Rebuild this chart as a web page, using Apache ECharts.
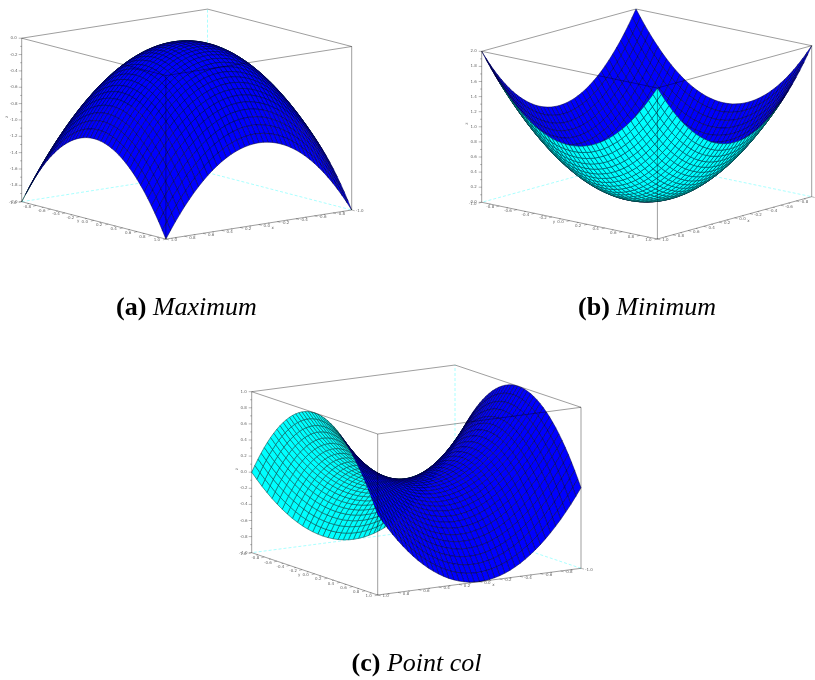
<!DOCTYPE html>
<html>
<head>
<meta charset="utf-8">
<style>
  html, body { margin: 0; padding: 0; background: #fff; }
  #chart { width: 815px; height: 680px; }
</style>
<script src="https://cdn.jsdelivr.net/npm/echarts@6/dist/echarts.min.js"></script>
</head>
<body>
<div id="chart"></div>
<script>
// mesh lines, same positions on both horizontal axes
const xGrid = [-1,-0.95,-0.9,-0.85,-0.8,-0.75,-0.7,-0.65,-0.6,-0.55,-0.5,-0.45,-0.4,-0.35,-0.3,-0.25,-0.2,-0.15,-0.1,-0.05,0,0.05,0.1,0.15,0.2,0.25,0.3,0.35,0.4,0.45,0.5,0.55,0.6,0.65,0.7,0.75,0.8,0.85,0.9,0.95,1];
const yGrid = [-1,-0.95,-0.9,-0.85,-0.8,-0.75,-0.7,-0.65,-0.6,-0.55,-0.5,-0.45,-0.4,-0.35,-0.3,-0.25,-0.2,-0.15,-0.1,-0.05,0,0.05,0.1,0.15,0.2,0.25,0.3,0.35,0.4,0.45,0.5,0.55,0.6,0.65,0.7,0.75,0.8,0.85,0.9,0.95,1];

// height contributed by each axis, read along the box edges of each panel
const maxAlongX = [-1,-0.903,-0.81,-0.723,-0.64,-0.563,-0.49,-0.423,-0.36,-0.303,-0.25,-0.203,-0.16,-0.123,-0.09,-0.063,-0.04,-0.023,-0.01,-0.003,0,-0.003,-0.01,-0.023,-0.04,-0.063,-0.09,-0.123,-0.16,-0.203,-0.25,-0.303,-0.36,-0.423,-0.49,-0.563,-0.64,-0.723,-0.81,-0.903,-1];
const maxAlongY = [-1,-0.903,-0.81,-0.723,-0.64,-0.563,-0.49,-0.423,-0.36,-0.303,-0.25,-0.203,-0.16,-0.123,-0.09,-0.063,-0.04,-0.023,-0.01,-0.003,0,-0.003,-0.01,-0.023,-0.04,-0.063,-0.09,-0.123,-0.16,-0.203,-0.25,-0.303,-0.36,-0.423,-0.49,-0.563,-0.64,-0.723,-0.81,-0.903,-1];
const minAlongX = [1,0.903,0.81,0.723,0.64,0.563,0.49,0.423,0.36,0.303,0.25,0.203,0.16,0.123,0.09,0.063,0.04,0.023,0.01,0.003,0,0.003,0.01,0.023,0.04,0.063,0.09,0.123,0.16,0.203,0.25,0.303,0.36,0.423,0.49,0.563,0.64,0.723,0.81,0.903,1];
const minAlongY = [1,0.903,0.81,0.723,0.64,0.563,0.49,0.423,0.36,0.303,0.25,0.203,0.16,0.123,0.09,0.063,0.04,0.023,0.01,0.003,0,0.003,0.01,0.023,0.04,0.063,0.09,0.123,0.16,0.203,0.25,0.303,0.36,0.423,0.49,0.563,0.64,0.723,0.81,0.903,1];
const colAlongX = [1,0.903,0.81,0.723,0.64,0.563,0.49,0.423,0.36,0.303,0.25,0.203,0.16,0.123,0.09,0.063,0.04,0.023,0.01,0.003,0,0.003,0.01,0.023,0.04,0.063,0.09,0.123,0.16,0.203,0.25,0.303,0.36,0.423,0.49,0.563,0.64,0.723,0.81,0.903,1];
const colAlongY = [-1,-0.903,-0.81,-0.723,-0.64,-0.563,-0.49,-0.423,-0.36,-0.303,-0.25,-0.203,-0.16,-0.123,-0.09,-0.063,-0.04,-0.023,-0.01,-0.003,0,-0.003,-0.01,-0.023,-0.04,-0.063,-0.09,-0.123,-0.16,-0.203,-0.25,-0.303,-0.36,-0.423,-0.49,-0.563,-0.64,-0.723,-0.81,-0.903,-1];

// tick labels
const xTicks = [1,0.8,0.6,0.4,0.2,0,-0.2,-0.4,-0.6,-0.8,-1];
const yTicks = [-1,-0.8,-0.6,-0.4,-0.2,0,0.2,0.4,0.6,0.8,1];
const maxZTicks = [0,-0.2,-0.4,-0.6,-0.8,-1,-1.2,-1.4,-1.6,-1.8,-2];
const minZTicks = [2,1.8,1.6,1.4,1.2,1,0.8,0.6,0.4,0.2,0];
const colZTicks = [1,0.8,0.6,0.4,0.2,0,-0.2,-0.4,-0.6,-0.8,-1];

// view = box corners of the floor, in plot units (1 unit = 1px) of the panel's grid
const panels = [
  {
    name: 'Maximum', tag: '(a)', alongX: maxAlongX, alongY: maxAlongY, zTicks: maxZTicks,
    grid: { left: 0, top: 0, width: 380, height: 260 },
    back: [207.5, 172.6], leftC: [21.7, 201.7], rightC: [351.7, 210], up: 163.5,
    caption: [186.5, 295]
  },
  {
    name: 'Minimum', tag: '(b)', alongX: minAlongX, alongY: minAlongY, zTicks: minZTicks,
    grid: { left: 440, top: 0, width: 375, height: 260 },
    back: [196, 160], leftC: [41.7, 202.3], rightC: [371.7, 196.7], up: 151,
    caption: [647, 295]
  },
  {
    name: 'Point col', tag: '(c)', alongX: colAlongX, alongY: colAlongY, zTicks: colZTicks,
    grid: { left: 220, top: 350, width: 400, height: 260 },
    back: [235, 176], leftC: [31.7, 202.7], rightC: [361, 218.3], up: 161,
    caption: [416.5, 651]
  }
];

const BOX_COLOR = 'rgba(0,0,0,0.38)';
const BACK_COLOR = '#aaffff';
const LABEL_FONT = 'DejaVu Sans';

function project(p, x, y, z) {
  const zs = p.zTicks;
  const zLow = Math.min(zs[0], zs[zs.length - 1]);
  const zHigh = Math.max(zs[0], zs[zs.length - 1]);
  const a = (x + 1) / 2;
  const b = (y + 1) / 2;
  const c = (z - zLow) / (zHigh - zLow);
  return [
    p.back[0] + a * (p.leftC[0] - p.back[0]) + b * (p.rightC[0] - p.back[0]),
    p.back[1] + a * (p.leftC[1] - p.back[1]) + b * (p.rightC[1] - p.back[1]) - c * p.up
  ];
}

function signedArea(pts) {
  let s = 0;
  for (let k = 0; k < pts.length; k++) {
    const n = pts[(k + 1) % pts.length];
    s += pts[k][0] * n[1] - n[0] * pts[k][1];
  }
  return s;
}

function surfaceItem(p) {
  const floorSign = Math.sign(signedArea([project(p, -1, -1, 0), project(p, 1, -1, 0), project(p, 1, 1, 0), project(p, -1, 1, 0)]));
  return function (params, api) {
    const i = api.value(0);
    const j = api.value(1);
    const corner = (m, n) => project(p, xGrid[m], yGrid[n], p.alongX[m] + p.alongY[n]);
    const plane = [corner(i, j), corner(i + 1, j), corner(i + 1, j + 1), corner(i, j + 1)];
    // underside of the sheet is cyan, top side is blue
    const top = Math.sign(signedArea(plane)) === floorSign;
    return {
      type: 'polygon',
      shape: { points: plane.map(q => api.coord(q)) },
      style: { fill: top ? '#0000ff' : '#00ffff', stroke: top ? '#00003c' : '#003c3c', lineWidth: 0.5 }
    };
  };
}

function lineEl(api, a, b, style) {
  const s = api.coord(a);
  const e = api.coord(b);
  return { type: 'line', shape: { x1: s[0], y1: s[1], x2: e[0], y2: e[1] }, style: style };
}

function textEl(api, at, dx, dy, text, size, rotation) {
  const c = api.coord(at);
  return {
    type: 'text', x: c[0] + dx, y: c[1] + dy, rotation: rotation || 0,
    style: { text: text, fontSize: size, fontFamily: LABEL_FONT, fill: '#666', align: 'center', verticalAlign: 'middle' }
  };
}

// dashed cyan floor and back post, drawn behind the sheet
function backBoxItem(p) {
  const zs = p.zTicks;
  const zTop = Math.max(zs[0], zs[zs.length - 1]);
  const zLow = Math.min(zs[0], zs[zs.length - 1]);
  return function (params, api) {
    const dash = { stroke: BACK_COLOR, lineWidth: 1, lineDash: [3, 2], fill: null };
    const solid = { stroke: BOX_COLOR, lineWidth: 1, fill: null };
    return {
      type: 'group',
      children: [
        lineEl(api, project(p, -1, -1, zLow), project(p, 1, -1, zLow), dash),
        lineEl(api, project(p, -1, -1, zLow), project(p, -1, 1, zLow), dash),
        lineEl(api, project(p, -1, -1, zLow), project(p, -1, -1, zTop), dash),
        lineEl(api, project(p, -1, -1, zTop), project(p, 1, -1, zTop), solid),
        lineEl(api, project(p, -1, -1, zTop), project(p, -1, 1, zTop), solid)
      ]
    };
  };
}

// front edges, axes, ticks and tick labels, drawn over the sheet
function frontBoxItem(p) {
  const zs = p.zTicks;
  const zTop = Math.max(zs[0], zs[zs.length - 1]);
  const zLow = Math.min(zs[0], zs[zs.length - 1]);
  return function (params, api) {
    const solid = { stroke: BOX_COLOR, lineWidth: 1, fill: null };
    const tickStyle = { stroke: 'rgba(0,0,0,0.4)', lineWidth: 0.7, fill: null };
    const kids = [
      lineEl(api, project(p, 1, -1, zTop), project(p, 1, 1, zTop), solid),
      lineEl(api, project(p, 1, 1, zTop), project(p, -1, 1, zTop), solid),
      lineEl(api, project(p, 1, -1, zLow), project(p, 1, -1, zTop), solid),
      lineEl(api, project(p, 1, 1, zLow), project(p, 1, 1, zTop), solid),
      lineEl(api, project(p, -1, 1, zLow), project(p, -1, 1, zTop), solid),
      lineEl(api, project(p, 1, -1, zLow), project(p, 1, 1, zLow), solid),
      lineEl(api, project(p, 1, 1, zLow), project(p, -1, 1, zLow), solid)
    ];
    const stub = (at, dx, dy) => [at, [at[0] + dx, at[1] + dy]];

    yTicks.forEach((v, k) => {
      const at = project(p, 1, v, zLow);
      const t = stub(at, -3, 0.8);
      kids.push(lineEl(api, t[0], t[1], tickStyle));
      kids.push(textEl(api, at, -9, 1.3, v.toFixed(1), 4));
      if (k < yTicks.length - 1) {
        const m = project(p, 1, (v + yTicks[k + 1]) / 2, zLow);
        const s = stub(m, -1.6, 0.4);
        kids.push(lineEl(api, s[0], s[1], tickStyle));
      }
    });
    xTicks.forEach((v, k) => {
      const at = project(p, v, 1, zLow);
      const t = stub(at, 3, 0.8);
      kids.push(lineEl(api, t[0], t[1], tickStyle));
      kids.push(textEl(api, at, 8, 1.3, v.toFixed(1), 4));
      if (k < xTicks.length - 1) {
        const m = project(p, (v + xTicks[k + 1]) / 2, 1, zLow);
        const s = stub(m, 1.6, 0.4);
        kids.push(lineEl(api, s[0], s[1], tickStyle));
      }
    });
    zs.forEach((v, k) => {
      const at = project(p, 1, -1, v);
      const t = stub(at, -3, 0);
      kids.push(lineEl(api, t[0], t[1], tickStyle));
      kids.push(textEl(api, at, -8, 0, v.toFixed(1), 4));
      if (k < zs.length - 1) {
        const m = project(p, 1, -1, (v + zs[k + 1]) / 2);
        const s = stub(m, -1.6, 0);
        kids.push(lineEl(api, s[0], s[1], tickStyle));
      }
    });
    kids.push(textEl(api, project(p, 1, 0, zLow), -15.5, 1, 'y', 4));
    kids.push(textEl(api, project(p, 0, 1, zLow), 14, 3, 'x', 4));
    kids.push(textEl(api, project(p, 1, -1, (zTop + zLow) / 2), -15, -3, 'z', 4, Math.PI / 2));
    return { type: 'group', children: kids };
  };
}

const cells = [];
for (let i = 0; i < xGrid.length - 1; i++) {
  for (let j = 0; j < yGrid.length - 1; j++) {
    cells.push([i, j]);
  }
}

const option = {
  animation: false,
  backgroundColor: '#fff',
  title: panels.map(p => ({
    text: '{b|' + p.tag + '} {i|' + p.name + '}',
    left: p.caption[0],
    top: p.caption[1],
    textAlign: 'center',
    padding: 0,
    textStyle: {
      fontWeight: 'normal',
      fontFamily: 'Liberation Serif',
      fontSize: 26,
      rich: {
        b: { fontFamily: 'Liberation Serif', fontWeight: 'bold', fontSize: 26, color: '#000' },
        i: { fontFamily: 'Liberation Serif', fontWeight: 'normal', fontStyle: 'italic', fontSize: 26, color: '#000' }
      }
    }
  })),
  grid: panels.map(p => p.grid),
  xAxis: panels.map((p, k) => ({ type: 'value', gridIndex: k, show: false, min: 0, max: p.grid.width })),
  yAxis: panels.map((p, k) => ({ type: 'value', gridIndex: k, show: false, inverse: true, min: 0, max: p.grid.height })),
  series: []
};

panels.forEach((p, k) => {
  const base = { type: 'custom', coordinateSystem: 'cartesian2d', xAxisIndex: k, yAxisIndex: k, silent: true, clip: false, progressive: 0 };
  option.series.push(Object.assign({}, base, { name: p.name + ' back', z: 1, data: [[0, 0]], renderItem: backBoxItem(p) }));
  option.series.push(Object.assign({}, base, { name: p.name, z: 2, data: cells, renderItem: surfaceItem(p) }));
  option.series.push(Object.assign({}, base, { name: p.name + ' front', z: 3, data: [[0, 0]], renderItem: frontBoxItem(p) }));
});

const myChart = echarts.init(document.getElementById('chart'));
myChart.setOption(option);
</script>
</body>
</html>
